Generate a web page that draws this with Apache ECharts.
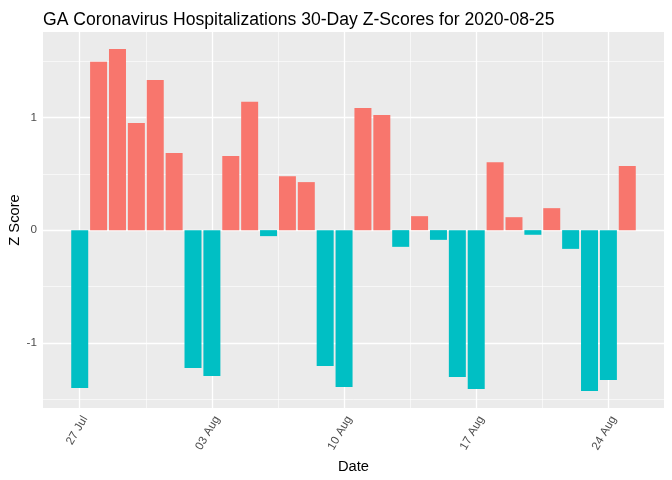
<!DOCTYPE html>
<html>
<head>
<meta charset="utf-8">
<script src="https://cdn.jsdelivr.net/npm/echarts@6/dist/echarts.min.js"></script>
<style>html,body{margin:0;padding:0;background:#fff}#c{width:672px;height:480px}</style>
</head>
<body>
<div id="c"></div>
<script>
// Dates 2020-07-27 .. 2020-08-25 (day index 0..29)
const dates = ['2020-07-27','2020-07-28','2020-07-29','2020-07-30','2020-07-31','2020-08-01','2020-08-02','2020-08-03','2020-08-04','2020-08-05','2020-08-06','2020-08-07','2020-08-08','2020-08-09','2020-08-10','2020-08-11','2020-08-12','2020-08-13','2020-08-14','2020-08-15','2020-08-16','2020-08-17','2020-08-18','2020-08-19','2020-08-20','2020-08-21','2020-08-22','2020-08-23','2020-08-24','2020-08-25'];
const zScores = [-1.399,1.493,1.606,0.949,1.331,0.683,-1.222,-1.293,0.657,1.139,-0.053,0.479,0.426,-1.204,-1.390,1.083,1.020,-0.148,0.124,-0.086,-1.302,-1.408,0.603,0.115,-0.041,0.195,-0.166,-1.426,-1.328,0.568];
const xTickDays = [0,7,14,21,28];
const xTickLabels = ['27 Jul','03 Aug','10 Aug','17 Aug','24 Aug'];
const xMinorDays = [-3.5,3.5,10.5,17.5,24.5];
const yTickValues = [-1,0,1];
const yTickLabels = ['-1','0','1'];
const yMinorValues = [-1.5,-0.5,0.5,1.5];

const xMin = -1.945, xMax = 30.945;
const yMin = -1.577, yMax = 1.757;
const gridLeft = 43, gridRight = 8, gridTop = 32, gridBottom = 72;
const plotW = 672 - gridLeft - gridRight;
const barW = 0.9 * plotW / (xMax - xMin);

const barData = zScores.map((v, i) => [i, v]);
const gridLines = [];
xMinorDays.forEach(d => gridLines.push({xAxis: d, lineStyle: {width: 0.6}}));
xTickDays.forEach(d => gridLines.push({xAxis: d, lineStyle: {width: 1.3}}));
yMinorValues.forEach(v => gridLines.push({yAxis: v, lineStyle: {width: 0.6}}));
yTickValues.forEach(v => gridLines.push({yAxis: v, lineStyle: {width: 1.3}}));

const chart = echarts.init(document.getElementById('c'));
chart.setOption({
  animation: false,
  backgroundColor: '#ffffff',
  title: {
    text: 'GA Coronavirus Hospitalizations 30-Day Z-Scores for 2020-08-25',
    left: 38, top: 6,
    textStyle: {fontFamily: 'Liberation Sans', fontSize: 17.6, fontWeight: 'normal', color: '#000'}
  },
  grid: {left: gridLeft, right: gridRight, top: gridTop, bottom: gridBottom, containLabel: false, outerBoundsMode: 'none',
    show: true, backgroundColor: '#EBEBEB', borderWidth: 0},
  xAxis: {
    type: 'value', min: xMin, max: xMax,
    name: 'Date', nameLocation: 'middle', nameGap: 51, nameMoveOverlap: false,
    nameTextStyle: {fontFamily: 'Liberation Sans', fontSize: 14.7, color: '#000'},
    axisLine: {show: false},
    splitLine: {show: false},
    axisTick: {show: true, customValues: xTickDays, length: 4, lineStyle: {color: '#333333', width: 1}},
    axisLabel: {
      customValues: xTickDays, rotate: 60, margin: 6, verticalAlign: 'top',
      fontFamily: 'Liberation Sans', fontSize: 11.7, color: '#4D4D4D',
      formatter: v => { const k = xTickDays.indexOf(Math.round(v)); return k >= 0 ? xTickLabels[k] : ''; }
    }
  },
  yAxis: {
    type: 'value', min: yMin, max: yMax,
    name: 'Z Score', nameLocation: 'middle', nameGap: 21, nameRotate: 90, nameMoveOverlap: false,
    nameTextStyle: {fontFamily: 'Liberation Sans', fontSize: 14.7, color: '#000'},
    axisLine: {show: false},
    splitLine: {show: false},
    axisTick: {show: true, customValues: yTickValues, length: 4, lineStyle: {color: '#333333', width: 1}},
    axisLabel: {
      customValues: yTickValues, margin: 6,
      fontFamily: 'Liberation Sans', fontSize: 11.7, color: '#4D4D4D',
      formatter: v => { const k = yTickValues.indexOf(Math.round(v)); return k >= 0 ? yTickLabels[k] : ''; }
    }
  },
  series: [
    {
      type: 'line', data: [], z: 1, silent: true,
      markLine: {silent: true, z: 1, symbol: 'none', label: {show: false}, animation: false,
        lineStyle: {color: '#ffffff', type: 'solid'}, data: gridLines}
    },
    {
      type: 'bar', z: 10, data: barData, barWidth: barW,
      itemStyle: {color: p => p.value[1] >= 0 ? '#F8766D' : '#00BFC4'}
    }
  ]
});
</script>
</body>
</html>
